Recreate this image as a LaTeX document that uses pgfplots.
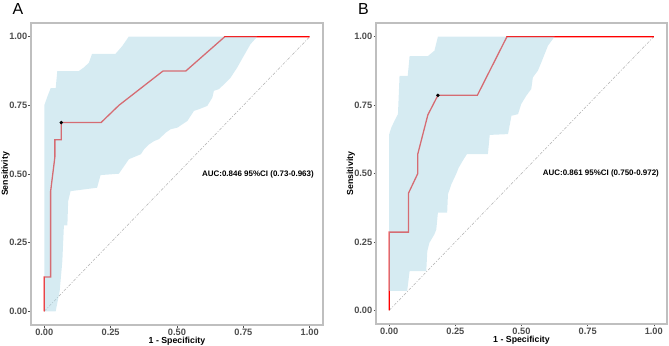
\documentclass[border=0pt]{standalone}
\usepackage{pgfplots}
\pgfplotsset{compat=1.18}
\usepackage{fontspec}
\setmainfont{Liberation Sans}
\definecolor{bandblue}{HTML}{ADD8E6}
\definecolor{tickgrey}{HTML}{4D4D4D}
\definecolor{framegrey}{HTML}{BFBFBF}
\definecolor{diaggrey}{HTML}{B0B0B0}
\pgfplotsset{rocstyle/.style={
  scale only axis, axis lines=box,
  xmin=-0.05,xmax=1.05,ymin=-0.05,ymax=1.05,
  xtick={0,0.25,0.5,0.75,1}, ytick={0,0.25,0.5,0.75,1},
  xticklabel style={/pgf/number format/fixed,/pgf/number format/fixed zerofill,/pgf/number format/precision=2,inner sep=1bp},
  yticklabel style={/pgf/number format/fixed,/pgf/number format/fixed zerofill,/pgf/number format/precision=2,inner sep=1bp},
  /pgf/number format/assume math mode=true,
  ticklabel style={font=\fontsize{9.3}{10}\selectfont\bfseries, text=tickgrey},
  axis line style={framegrey, line width=1.1bp},
  tick style={tickgrey, line width=0.5bp},
  tick align=outside, major tick length=2.5bp,
  xtick pos=bottom, ytick pos=left,
  xlabel={1 - Specificity}, ylabel={Sensitivity},
  label style={font=\fontsize{8.8}{10}\selectfont\bfseries, text=black},
  xlabel style={inner sep=1bp},
  ylabel style={at={(axis description cs:-0.072,0.5)}, anchor=south, inner sep=0pt},
  clip=true,
}}
\begin{document}
\begin{tikzpicture}
\useasboundingbox (0,0) rectangle (669bp,346bp);
% ---------- Panel A ----------
\begin{axis}[rocstyle, at={(31bp,21bp)}, anchor=south west, width=292bp, height=302bp]
\addplot[diaggrey, line width=0.5bp, dash pattern=on 3bp off 1.5bp on 1bp off 1.5bp] coordinates {(0,0) (1,1)};
\addplot[red, line width=1.3bp] coordinates {
(0,0) (0,0.125) (0.024,0.125) (0.024,0.4375) (0.040,0.5625) (0.040,0.625) (0.064,0.625) (0.064,0.6875)
(0.214,0.6875) (0.281,0.75) (0.447,0.875) (0.533,0.875) (0.680,1) (1,1)};
\addplot[fill=bandblue, fill opacity=0.5, draw=none] coordinates {
(0,0) (0,0.75) (0.011,0.78) (0.024,0.8125) (0.043,0.8125) (0.049,0.875) (0.130,0.875) (0.149,0.888)
(0.168,0.905) (0.180,0.9375) (0.268,0.9375) (0.293,0.965) (0.318,1) (0.802,1)
(0.777,0.973) (0.752,0.931) (0.727,0.888) (0.702,0.851) (0.671,0.821) (0.658,0.809) (0.639,0.803)
(0.633,0.778) (0.614,0.748) (0.583,0.736) (0.564,0.73) (0.539,0.693) (0.520,0.681) (0.502,0.669)
(0.476,0.663) (0.458,0.651) (0.432,0.627) (0.414,0.620) (0.395,0.608) (0.376,0.590) (0.364,0.572)
(0.319,0.554) (0.281,0.501) (0.212,0.496) (0.199,0.45) (0.099,0.4375) (0.090,0.401) (0.087,0.3125)
(0.074,0.3125) (0.068,0.182) (0.058,0.073) (0.043,0)} -- cycle;
\addplot[only marks, mark=*, mark size=1.5bp, black] coordinates {(0.064,0.6875)};
\node[font=\fontsize{8}{9}\selectfont\bfseries] at (axis cs:0.805,0.5) {AUC:0.846 95\%CI (0.73-0.963)};
\end{axis}
% ---------- Panel B ----------
\begin{axis}[rocstyle, at={(376bp,22bp)}, anchor=south west, width=291bp, height=301bp]
\addplot[diaggrey, line width=0.5bp, dash pattern=on 3bp off 1.5bp on 1bp off 1.5bp] coordinates {(0,0) (1,1)};
\addplot[red, line width=1.3bp] coordinates {
(0,0) (0,0.2857) (0.073,0.2857) (0.073,0.4286) (0.108,0.5) (0.108,0.5714) (0.146,0.7143) (0.184,0.7857)
(0.333,0.7857) (0.445,1) (1,1)};
\addplot[fill=bandblue, fill opacity=0.5, draw=none] coordinates {
(0,0.0714) (0,0.644) (0.008,0.668) (0.020,0.693) (0.033,0.717) (0.039,0.857) (0.070,0.857) (0.077,0.929)
(0.146,0.929) (0.171,0.949) (0.184,1.0) (0.625,1.0)
(0.600,0.967) (0.575,0.906) (0.562,0.876) (0.543,0.851) (0.537,0.809) (0.518,0.784) (0.499,0.754)
(0.487,0.717) (0.462,0.711) (0.449,0.644) (0.380,0.641) (0.373,0.571) (0.294,0.571) (0.280,0.55)
(0.262,0.52) (0.253,0.498) (0.235,0.461) (0.222,0.424) (0.219,0.357) (0.184,0.357) (0.178,0.296)
(0.171,0.278) (0.152,0.247) (0.144,0.217) (0.140,0.143) (0.077,0.143) (0.068,0.0714)} -- cycle;
\addplot[only marks, mark=*, mark size=1.5bp, black] coordinates {(0.184,0.7857)};
\node[font=\fontsize{8}{9}\selectfont\bfseries] at (axis cs:0.80,0.5) {AUC:0.861 95\%CI (0.750-0.972)};
\end{axis}
\node[font=\fontsize{16}{16}\selectfont, anchor=base west, inner sep=0] at (12.5bp,331bp) {A};
\node[font=\fontsize{16}{16}\selectfont, anchor=base west, inner sep=0] at (358bp,331bp) {B};
\end{tikzpicture}
\end{document}
